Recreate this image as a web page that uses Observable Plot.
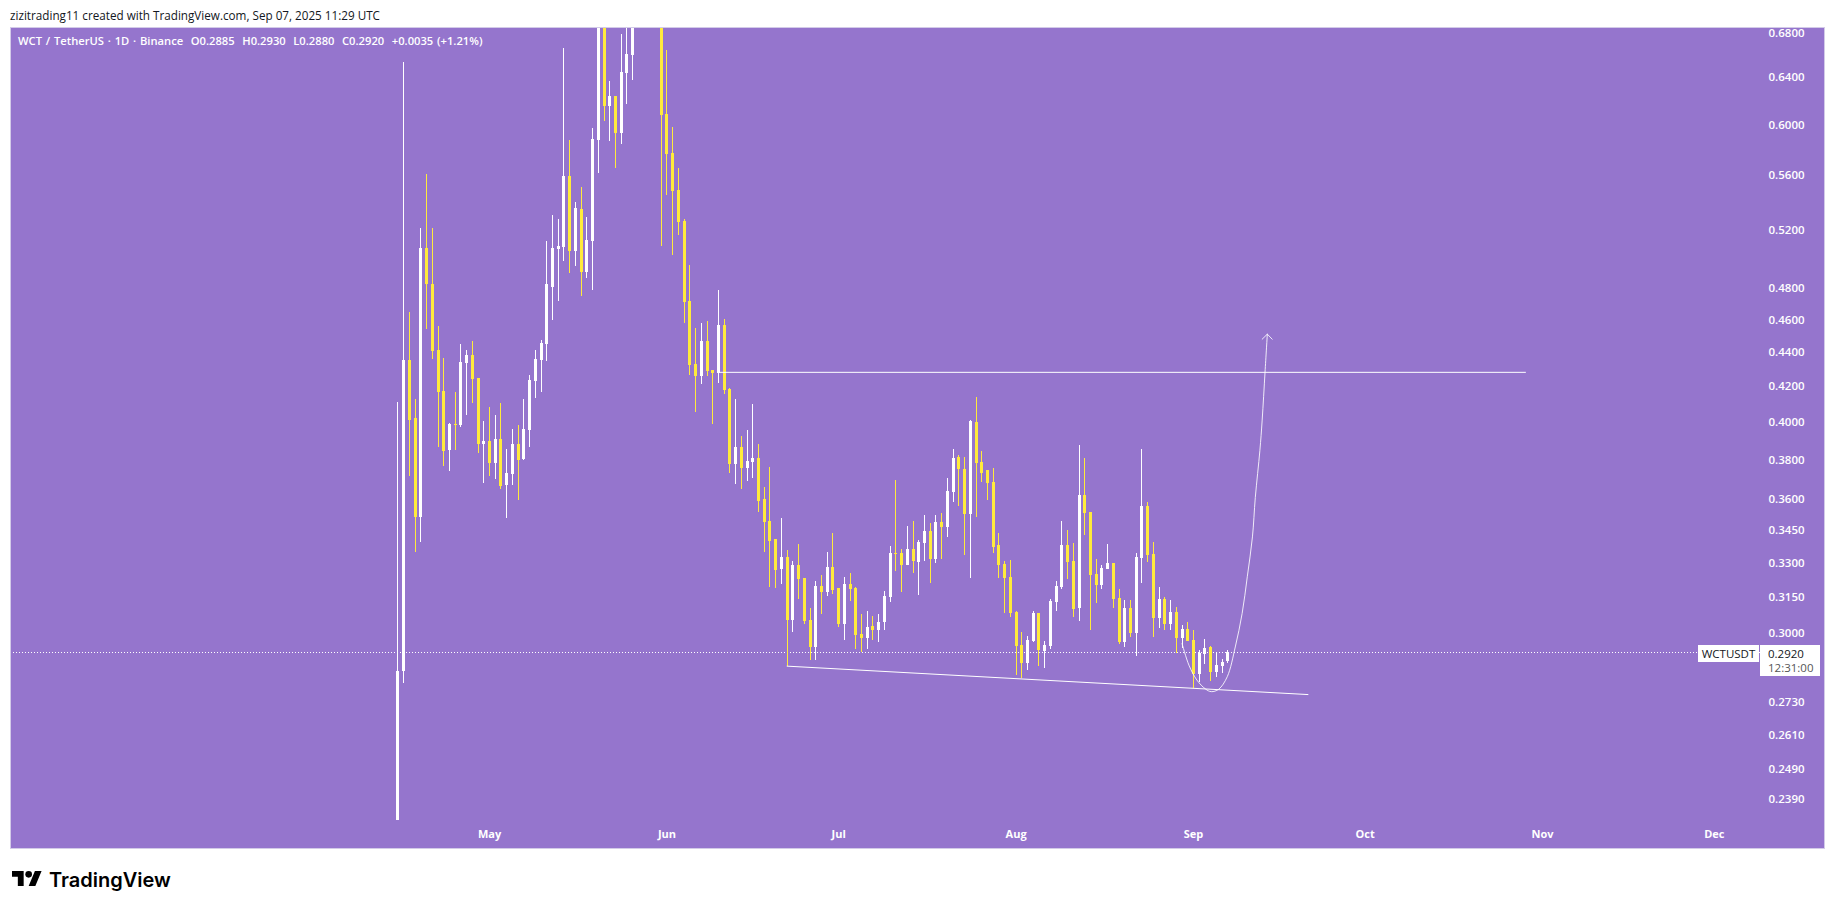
<!DOCTYPE html>
<html>
<head>
<meta charset="utf-8">
<script src="https://cdn.jsdelivr.net/npm/d3@7"></script>
<script src="https://cdn.jsdelivr.net/npm/@observablehq/plot@0.6"></script>
<style>
html,body{margin:0;padding:0;background:#fff;width:1835px;height:909px;overflow:hidden;font-family:"Open Sans",sans-serif}
.abs{position:absolute;white-space:nowrap}
#chart{position:absolute;left:10px;top:27px;width:1815px;height:822px;background:#9575cd;outline:1px solid #d3cbe8;outline-offset:-1px}
#chart svg{display:block;background:transparent}
</style>
</head>
<body>
<div class="abs" style="left:10px;top:7px;font-size:11.7px;line-height:16px;color:#131722">zizitrading11 created with TradingView.com, Sep 07, 2025 11:29 UTC</div>
<div id="chart"></div>
<div class="abs" style="left:18px;top:33px;font-size:11.2px;line-height:16px;color:#fff;font-weight:600;word-spacing:.9px">WCT / TetherUS · 1D · Binance&nbsp; O0.2885&nbsp; H0.2930&nbsp; L0.2880&nbsp; C0.2920&nbsp; +0.0035 (+1.21%)</div>
<div class="abs" style="left:1698px;top:645px;width:61px;height:17px;background:#fff;color:#131722;font-size:11.5px;line-height:17px;text-align:center">WCTUSDT</div>
<div class="abs" style="left:1760px;top:645px;width:60px;height:31px;background:#fff">
  <div class="abs" style="left:8px;top:1px;font-size:11.5px;line-height:16px;color:#131722">0.2920</div>
  <div class="abs" style="left:8px;top:15px;font-size:11.5px;line-height:16px;color:#555">12:31:00</div>
</div>
<svg class="abs" style="left:12px;top:871px" width="30" height="15" viewBox="0 4 36 18"><path fill="#000" d="M14 22H7V11H0V4h14v18zM28 22h-8l7.5-18h8L28 22z"/><circle fill="#000" cx="20" cy="8" r="4"/></svg>
<div class="abs" style="left:49px;top:866px;font-family:Inter,sans-serif;font-weight:600;font-size:20px;line-height:28px;color:#000">TradingView</div>
<script>
const startDate = Date.UTC(2025, 3, 15);
const toDate = d => new Date(startDate + d * 864e5);

const dayOffset = [...d3.range(0, 42), ...d3.range(46, 146)];
const open = [
  .2322,.2846,.4354,.4018,.3514,.5071,.4830,.4412,.4173,.3849,
  .3990,.3980,.4336,.4383,.4249,.3882,.3898,.3783,.3909,.3672,
  .3727,.3882,.3803,.3958,.4231,.4354,.4449,.4810,.5064,.5078,
  .5597,.5050,.5350,.4904,.5121,.5878,.72,.6156,.6240,.5935,.6441,.6599,
  .72,.6090,.5773,.5490,
  .5257,.4717,.4330,.4255,.4468,.4290,.4278,.4567,.4185,.3778,
  .3865,.3758,.3788,.3808,.3600,.3496,.3410,.3274,.3327,.3054,
  .3292,.3234,.3054,.2942,.3198,.3172,.3283,.3189,.3037,.3207,
  .3189,.2996,.2980,.3029,.3013,.3042,.3149,.3345,.3345,.3292,
  .3363,.3305,.3391,.3444,.3318,.3491,.3467,.3636,.3814,.3753,
  .3529,.4001,.3788,.3743,.3687,.3382,.3296,.3238,.3087,.2951,
  .2880,.2967,.3083,.2926,.2947,.3128,.3194,.3382,.3309,.3104,
  .3621,.3538,.3252,.3203,.3274,.3300,.3145,.2963,.3104,.3000,
  .3323,.3567,.3340,.3062,.3141,.3037,.3087,.2980,.3017,.2971,
  .2837,.2915,.2942,.2845,.2868,.2885
];
const close = [
  .2849,.4354,.4012,.3514,.5071,.4824,.4408,.4168,.3844,.3990,
  .3985,.4342,.4383,.4243,.3882,.3898,.3783,.3909,.3666,.3732,
  .3882,.3798,.3963,.4237,.4360,.4455,.4824,.5071,.5086,.5590,
  .5050,.5357,.4904,.5128,.5886,.72,.6156,.6240,.5935,.6450,.6608,.72,
  .6082,.5765,.5483,.5250,
  .4710,.4325,.4255,.4468,.4284,.4278,.4567,.4179,.3778,.3865,
  .3758,.3793,.3808,.3590,.3491,.3401,.3269,.3327,.3054,.3292,
  .3229,.3050,.2942,.3198,.3172,.3283,.3181,.3037,.3207,.3185,
  .2992,.2980,.3025,.3013,.3046,.3154,.3345,.3340,.3292,.3363,
  .3309,.3396,.3444,.3318,.3491,.3467,.3641,.3808,.3748,.3529,
  .4007,.3783,.3732,.3682,.3372,.3292,.3234,.3083,.2947,.2880,
  .2971,.3083,.2930,.2951,.3133,.3198,.3382,.3305,.3099,.3621,
  .3533,.3247,.3203,.3278,.3300,.3141,.2963,.3104,.3000,.3327,
  .3567,.3336,.3062,.3141,.3037,.3087,.2980,.3017,.2967,.2837,
  .2918,.2938,.2845,.2872,.2884,.2920
];
const high = [
  .4110,.6538,.4648,.4127,.5207,.5605,.5207,.4561,.4364,.3996,
  .4168,.4449,.4412,.4468,.4249,.4007,.4083,.4039,.4105,.3854,
  .3963,.3980,.4127,.4266,.4412,.4474,.5121,.5300,.5278,.6661,
  .5878,.5400,.5513,.5286,.5968,.74,.74,.6371,.6240,.6785,.70,.74,
  .74,.6643,.5976,.5658,
  .5278,.4957,.4549,.4580,.4592,.4295,.4790,.4605,.4191,.4127,
  .3925,.3958,.4099,.3882,.3661,.3763,.3410,.3510,.3358,.3309,
  .3387,.3234,.3104,.3220,.3247,.3349,.3439,.3189,.3238,.3256,
  .3194,.3079,.3091,.3071,.3079,.3176,.3377,.3697,.3363,.3472,
  .3496,.3405,.3524,.3486,.3524,.3533,.3707,.3854,.3824,.3814,
  .4012,.4139,.3844,.3743,.3758,.3439,.3309,.3314,.3091,.3004,
  .2988,.3091,.3083,.2967,.3141,.3220,.3496,.3453,.3391,.3876,
  .3808,.3538,.3318,.3292,.3387,.3300,.3185,.3137,.3137,.3345,
  .3854,.3586,.3396,.3194,.3149,.3137,.3108,.3033,.3046,.3013,
  .2930,.2976,.2947,.2922,.2895,.2930
];
const low = [
  .2322,.2800,.3717,.3350,.3397,.4538,.4355,.3867,.3764,.3738,
  .3849,.3969,.4039,.4105,.3834,.3682,.3717,.3702,.3651,.3510,
  .3672,.3595,.3798,.3865,.4133,.4168,.4348,.4598,.4717,.4983,
  .4897,.4950,.4750,.4864,.4790,.5613,.6033,.5870,.5658,.5845,.6172,.6380,
  .5086,.5452,.5023,.5164,
  .4580,.4266,.4056,.4214,.4255,.3990,.4220,.4156,.3732,.3677,
  .3651,.3692,.3707,.3538,.3349,.3194,.3189,.3207,.2868,.3004,
  .3141,.3037,.2891,.2891,.3079,.3154,.3163,.3025,.2971,.3133,
  .2934,.2922,.2934,.2971,.2963,.3013,.3128,.3265,.3172,.3292,
  .3256,.3158,.3309,.3212,.3300,.3318,.3420,.3586,.3567,.3336,
  .3234,.3514,.3687,.3595,.3345,.3234,.3083,.3066,.2833,.2822,
  .2853,.2963,.2868,.2860,.2934,.3091,.3185,.3229,.3066,.3050,
  .3429,.3009,.3124,.3185,.3274,.3104,.2955,.2942,.2984,.2907,
  .3212,.3305,.2984,.3021,.3009,.3009,.2918,.2938,.2967,.2783,
  .2806,.2876,.2810,.2825,.2841,.2880
];

const priceTicks = [.68,.64,.60,.56,.52,.48,.46,.44,.42,.40,.38,.36,.345,.33,.315,.30,.273,.261,.249,.239];
const monthTicks = ["2025-05-01","2025-06-01","2025-07-01","2025-08-01","2025-09-01","2025-10-01","2025-11-01","2025-12-01"];
const lastPrice = [.2920];

const resistanceDays = [56, 197];
const resistancePrices = [.4282, .4282];
const supportDays = [68, 159];
const supportPrices = [.2868, .2759];
const pathDays = [137.0,138.2,139.6,141.1,142.1,143.4,144.9,146.3,147.5,148.4,149.3,149.8,150.6,151.0,151.5,151.9];
const pathPrices = [.2958,.2872,.2814,.2780,.2770,.2779,.2827,.2944,.3082,.3240,.3421,.3610,.3849,.4012,.4284,.4511];
const headDays = [151.0, 151.9, 152.75];
const headPrices = [.4480, .4511, .4480];

const candles = dayOffset.map((d, i) => ({
  date: toDate(d), open: open[i], high: high[i], low: low[i], close: close[i],
  color: close[i] >= open[i] ? "#ffffff" : "#ffeb3b"
}));
const pairs = (xs, ys) => xs.map((d, i) => ({date: toDate(d), price: ys[i]}));
const font = {fontFamily: '"Open Sans",sans-serif'};

const chart = Plot.plot({
  width: 1814, height: 821,
  marginTop: 0, marginBottom: 25, marginLeft: 0, marginRight: 64,
  style: {background: "transparent", overflow: "visible"},
  x: {type: "utc", domain: [toDate(-67.7), toDate(238.07)]},
  y: {type: "log", domain: [.2314, .6854]},
  marks: [
    Plot.ruleY(lastPrice, {y: d => d, stroke: "#fff", strokeWidth: 1, strokeDasharray: "1 2", shapeRendering: "crispEdges"}),
    Plot.ruleX(candles, {x: "date", y1: "low", y2: "high", stroke: "color", strokeWidth: 1, clip: true, shapeRendering: "crispEdges"}),
    Plot.ruleX(candles, {x: "date", y1: "open", y2: "close", stroke: "color", strokeWidth: 3, clip: true, shapeRendering: "crispEdges"}),
    Plot.line(pairs(resistanceDays, resistancePrices), {x: "date", y: "price", stroke: "#fff", strokeWidth: 1}),
    Plot.line(pairs(supportDays, supportPrices), {x: "date", y: "price", stroke: "#fff", strokeWidth: 1}),
    Plot.line(pairs(pathDays, pathPrices), {x: "date", y: "price", stroke: "#fff", strokeOpacity: .85, strokeWidth: 1, curve: "catmull-rom"}),
    Plot.line(pairs(headDays, headPrices), {x: "date", y: "price", stroke: "#fff", strokeOpacity: .85, strokeWidth: 1}),
    Plot.axisY(priceTicks, {anchor: "right", tickSize: 0, tickPadding: 8, label: null, tickFormat: d3.format(".4f"), fill: "#fff", fontSize: 11.5, fontWeight: 600, ...font}),
    Plot.axisX(monthTicks.map(s => new Date(s)), {anchor: "bottom", tickSize: 0, tickPadding: 7, label: null, tickFormat: d3.utcFormat("%b"), fill: "#fff", fontSize: 11, fontWeight: 700, ...font})
  ]
});
document.getElementById("chart").appendChild(chart);
</script>
</body>
</html>
